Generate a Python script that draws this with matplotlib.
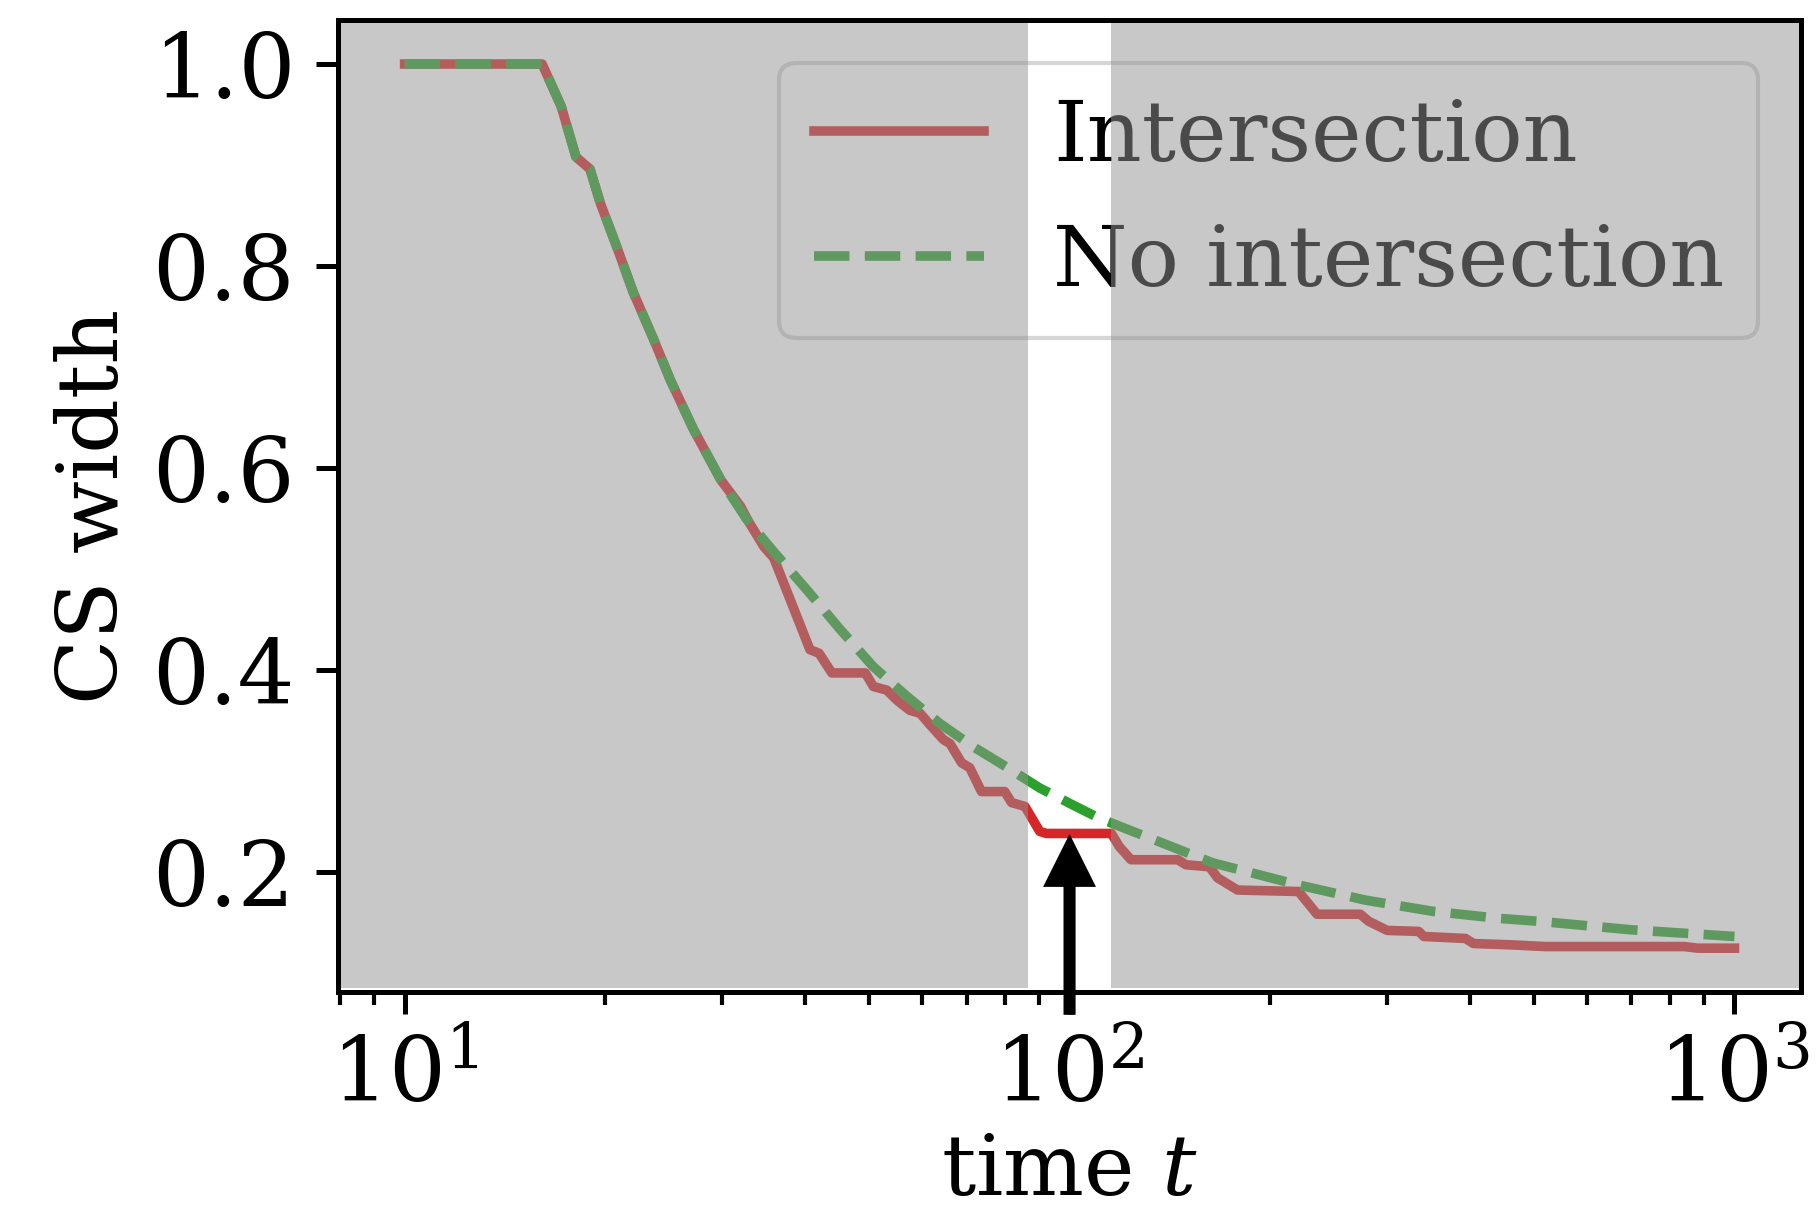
import matplotlib
matplotlib.use('Agg')
import matplotlib.pyplot as plt

# values
t_int = [10, 16.1, 17.2, 18.1, 19.0, 19.7, 20.9, 22.1, 23.7, 25.1, 27.2, 29.9,
         32.0, 32.9, 34.7, 35.9, 40.7, 42.0, 43.9, 49.3, 50.7, 53.1, 55.0, 57.5,
         59.6, 61.7, 64.6, 66.1, 68.8, 70.8, 73.7, 79.9, 81.8, 85.7, 90.2, 92.3,
         115.6, 118.8, 123.7, 145.5, 149.6, 162.3, 167, 178.9, 221, 235.6, 273.7,
         281.8, 300.4, 335, 341, 394, 405, 462, 519, 624, 841, 880, 1000]
cs_int = [1.0, 1.0, 0.958, 0.908, 0.896, 0.862, 0.817, 0.773, 0.727, 0.687, 0.638, 0.588,
          0.562, 0.547, 0.522, 0.511, 0.420, 0.4165, 0.397, 0.397, 0.3835, 0.380, 0.370, 0.360,
          0.357, 0.3455, 0.331, 0.327, 0.308, 0.303, 0.2795, 0.2795, 0.2686, 0.2647, 0.240, 0.238,
          0.238, 0.225, 0.212, 0.212, 0.207, 0.205, 0.194, 0.182, 0.1805, 0.158, 0.158,
          0.151, 0.142, 0.141, 0.136, 0.134, 0.129, 0.1277, 0.126, 0.126, 0.126, 0.1244, 0.1244]

t_no = [10, 16.1, 17.2, 18.1, 19.0, 19.7, 20.9, 22.1, 23.7, 25.1, 27.2, 29.9, 32.7,
        35.9, 40.3, 45.2, 50.7, 56.9, 63.8, 71.6, 80.3, 90.2, 101.3, 110.9, 139.8,
        164, 221, 278.5, 351, 441, 513, 699, 1000]
cs_no = [1.0, 1.0, 0.958, 0.908, 0.896, 0.862, 0.817, 0.773, 0.727, 0.687, 0.638, 0.588, 0.549,
         0.517, 0.479, 0.440, 0.403, 0.374, 0.347, 0.324, 0.304, 0.283, 0.266, 0.253, 0.227,
         0.209, 0.187, 0.172, 0.161, 0.154, 0.1508, 0.1426, 0.136]

# window left unshaded around t = 100
window = [86.5, 115.6]
arrow_t = 100
arrow_tip = 0.2375

plt.rcParams['font.family'] = 'DejaVu Serif'
plt.rcParams['mathtext.fontset'] = 'dejavuserif'
plt.rcParams['axes.linewidth'] = 1.2

fig = plt.figure(figsize=(1819 / 300, 1220 / 300), dpi=300)
ax = fig.add_axes([338 / 1819, 1 - 992 / 1220, (1801 - 338) / 1819, (992 - 20) / 1220])

ax.plot(t_int, cs_int, color='tab:red', lw=2.3, label='Intersection')
ax.plot(t_no, cs_no, color='tab:green', lw=2.3, ls='--', label='No intersection')

ax.set_xscale('log')
ax.set_xlim(7.94, 1259)
ax.set_ylim(0.081, 1.0436)
ax.set_yticks([0.2, 0.4, 0.6, 0.8, 1.0])

ax.tick_params(axis='both', which='major', labelsize=21.5, length=5.3, width=1.2, pad=5)
ax.tick_params(axis='x', which='minor', length=3.1, width=1.0)

ax.set_xlabel('time $t$', fontsize=20.5, labelpad=2)
ax.set_ylabel('CS width', fontsize=20.5)

ax.legend(loc='upper right', fontsize=20.5, handlelength=2.0)

# grey shading drawn above lines and legend, leaving a window open
ax.axvspan(7.94, window[0], ymin=0.004, ymax=1, color='#939393', alpha=0.51, lw=0, zorder=6)
ax.axvspan(window[1], 1259, ymin=0.004, ymax=1, color='#939393', alpha=0.51, lw=0, zorder=6)
for sp in ax.spines.values():
    sp.set_zorder(7)

ax.annotate('', xy=(arrow_t, arrow_tip), xytext=(arrow_t, 0.0584),
            arrowprops=dict(facecolor='black', edgecolor='none', width=2.9,
                            headwidth=12.7, headlength=12.7, shrink=0),
            annotation_clip=False, zorder=8)

plt.savefig('out.png', dpi=300)
